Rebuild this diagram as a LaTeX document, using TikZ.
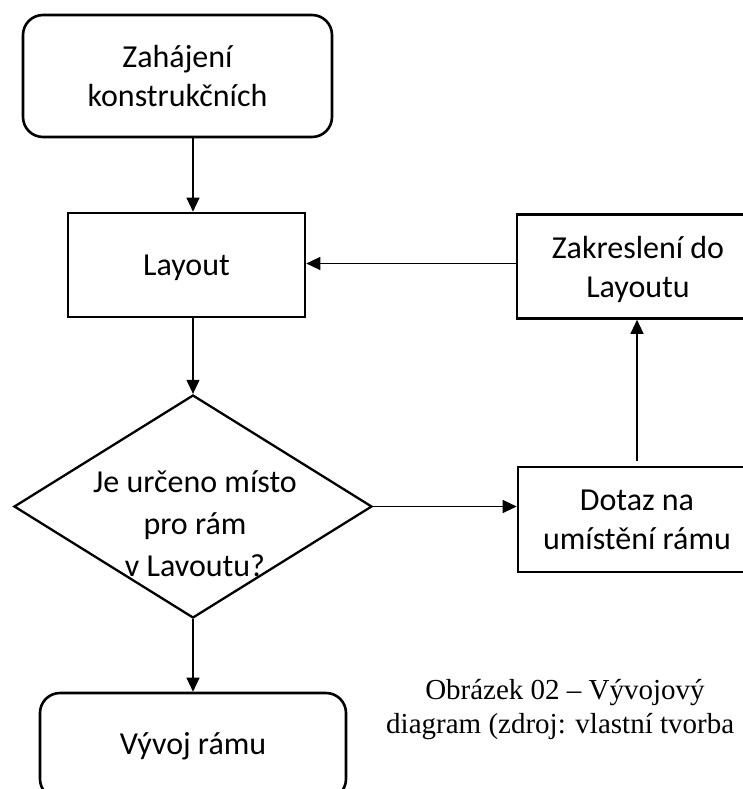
\documentclass[tikz,border=0pt]{standalone}
\usepackage{fontspec}
\setmainfont{Carlito}
\newfontfamily\captionserif{Liberation Serif}
\usetikzlibrary{arrows.meta,shapes.geometric}

\begin{document}
\begin{tikzpicture}[x=1pt,y=-1pt,
  boxtext/.style={font=\fontsize{32}{39}\selectfont, align=center, text=black},
  procbox/.style={boxtext, draw=black, line width=2.6pt, inner sep=0pt, fill=white},
  rectbox/.style={procbox, text depth=0pt},
  termbox/.style={procbox, rounded corners=20pt},
  decision/.style={shape=diamond, draw=black, line width=2.3pt, inner sep=0pt,
                   minimum width=358pt, minimum height=223pt},
  conn/.style={draw=black, line width=1.1pt, -{Triangle[length=14pt,width=13pt]}}
]
  \useasboundingbox (0,0) rectangle (743,789);
  \fill[white] (0,0) rectangle (743,789);
  \clip (0,0) rectangle (743,789);

  % process boxes
  \node[termbox, minimum width=309pt, minimum height=122pt] (start) at (177.5,76)
       {Zahájení\\konstrukčních};
  \node[rectbox, minimum width=237pt, minimum height=104pt] (layout) at (186.5,265)
       {Layout};
  \node[rectbox, minimum width=242pt, minimum height=104pt] (zakres) at (638,266.5)
       {Zakreslení do\\Layoutu};
  \node[rectbox, minimum width=238pt, minimum height=105pt] (dotaz) at (637,519.5)
       {Dotaz na\\umístění rámu};
  \node[termbox, minimum width=306pt, minimum height=106pt] (vyvoj) at (193,746)
       {Vývoj rámu};

  % decision
  \node[decision] (dec) at (193,506.5) {};
  \node[font=\fontsize{32}{42}\selectfont, align=center] (dectext) at (195,524)
       {Je určeno místo\\pro rám\\v Lavoutu?};

  % connectors
  \draw[conn] (start.south -| dec.north) -- (layout.north -| dec.north);
  \draw[conn] (layout.south -| dec.north) -- (dec.north);
  \draw[conn] (dec.south) -- (vyvoj.north);
  \draw[conn] (dec.east) -- (dec.east -| dotaz.west);
  \draw[conn, shorten <=5pt] (dotaz.north) -- (zakres.south -| dotaz.north);
  \draw[conn] ([yshift=3pt]zakres.west) -- ([yshift=3pt]zakres.west -| layout.east);

  % caption
  \node[font=\captionserif\fontsize{29}{34}\selectfont, align=center] (caption) at (565,710)
       {Obrázek 02 – Vývojový\\diagram (zdroj: vlastní tvorba\phantom{)}};
\end{tikzpicture}
\end{document}
